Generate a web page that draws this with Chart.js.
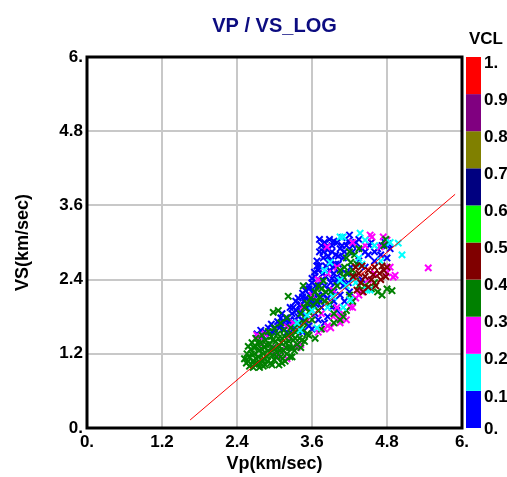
<!DOCTYPE html>
<html>
<head>
<meta charset="utf-8">
<title>VP / VS_LOG</title>
<script src="https://cdn.jsdelivr.net/npm/chart.js@4.4.1/dist/chart.umd.min.js"></script>
<style>
  html, body { margin: 0; padding: 0; background: #fff; }
  #wrap { width: 507px; height: 477px; }
</style>
</head>
<body>
<div id="wrap"><canvas id="vpvs"></canvas></div>
<script>
// colour bar: VCL from 0 to 1 in 0.1 steps
const vclLabels = ['0.', '0.1', '0.2', '0.3', '0.4', '0.5', '0.6', '0.7', '0.8', '0.9', '1.'];
const vclColors = ['#0000ff', '#00ffff', '#ff00ff', '#008000', '#800000',
                   '#00ff00', '#000080', '#808000', '#800080', '#ff0000'];

// axis ticks (same on both axes)
const axisTicks = [0, 1.2, 2.4, 3.6, 4.8, 6];
const axisTickText = ['0.', '1.2', '2.4', '3.6', '4.8', '6.'];

// samples [Vp, Vs] per VCL class
const vcl00 = [ // 0.0 - 0.1 blue
  [2.72,1.52],[2.78,1.58],[2.82,1.48],[2.85,1.55],[2.9,1.62],[2.95,1.68],[3.0,1.6],[3.05,1.72],
  [3.1,1.66],[3.1,1.78],[3.12,1.85],[3.18,1.78],[3.2,1.55],[3.22,1.7],[3.25,1.95],[3.28,1.85],
  [3.34,2.05],[3.3,1.6],[3.45,2.12],[3.35,1.9],[3.38,2.1],[3.4,1.7],[3.42,2.0],[3.45,2.18],
  [3.45,1.55],[3.55,2.3],[3.5,2.1],[3.5,1.8],[3.6,2.42],[3.55,2.25],[3.55,1.65],[3.64,2.52],
  [3.6,2.35],[3.6,2.0],[3.68,2.62],[3.65,2.45],[3.65,1.85],[3.68,2.7],[3.7,2.55],[3.7,2.15],
  [3.7,1.75],[3.72,2.85],[3.75,2.95],[3.75,1.95],[3.78,2.75],[3.8,3.0],[3.8,2.3],[3.82,2.62],
  [3.85,2.88],[3.85,2.1],[3.85,1.8],[3.88,3.05],[3.9,2.7],[3.9,2.35],[3.92,2.95],[3.95,2.5],
  [3.95,2.2],[3.98,2.8],[4.0,3.0],[4.0,2.4],[4.02,2.65],[4.05,2.9],[4.05,2.15],[4.08,3.08],
  [4.1,2.75],[4.1,2.3],[4.15,2.95],[4.15,2.5],[4.2,3.12],[4.22,2.6],[4.25,2.85],[4.3,3.0],
  [4.3,2.45],[4.35,2.7],[4.4,2.9],[4.4,2.4],[4.45,2.6],[4.5,2.8],[4.55,3.0],[4.6,2.7],
  [4.65,2.9],[4.7,2.8],[4.75,3.02],[4.8,2.75],[4.85,2.9],[3.72,3.05],[3.78,2.5],[3.88,2.55],
  [3.6,1.6],[3.8,1.7],
  [3.78,2.85],[3.82,2.92],[3.86,2.78],[3.92,2.85],[3.95,3.02],[3.98,2.65],[4.02,2.78],[4.08,2.95],
  [4.12,2.85],[3.72,2.62],[3.76,2.4],[3.82,2.45],[3.72,2.3],[3.66,2.3],[3.62,2.2],[3.58,2.05],
  [3.52,1.95],[3.48,2.05],[3.42,1.9],[3.38,1.8],[3.32,1.75],[3.28,1.68],[3.15,1.7],[3.08,1.62],
  [2.98,1.55],[2.92,1.52],[3.4,1.98],[3.3,1.95],[3.5,2.22],[3.92,2.42],[3.88,2.25],[3.95,2.6],
  [3.78,2.15],[3.88,2.65],[4.18,3.02],[4.35,3.05],[4.45,2.85],[4.6,2.85],[4.52,2.95],[4.25,2.95],
  [4.72,2.95],[4.82,2.98],[4.05,2.5],[3.98,2.35],
  [3.95,2.05],[4.0,1.9],[4.12,2.05],[4.2,2.2],[3.92,1.95],[4.08,2.4],[4.18,2.35],[3.35,1.65],
  [3.45,1.75],[3.25,1.75],[3.15,1.6],[3.62,2.1],[3.56,2.15],[3.66,2.0],[3.74,2.05]
];
const vcl01 = [ // 0.1 - 0.2 cyan
  [4.05,3.09],[4.1,3.09],[4.37,3.15],[4.45,3.04],[4.98,2.99],[5.04,2.8],[3.89,2.68],[4.05,2.39],
  [4.26,2.39],[4.48,2.23],[4.53,2.23],[4.21,2.07],[3.94,2.12],[3.68,1.62],[3.41,1.58],[3.36,1.7],
  [3.52,1.82],[4.6,2.95],[4.7,2.7],[4.4,2.65],[3.8,2.55],[4.15,2.3],[4.85,3.0],[3.6,1.9],
  [4.35,2.75],[4.1,1.95],[3.85,1.95],[4.3,2.35]
];
const vcl02 = [ // 0.2 - 0.3 magenta
  [2.72,1.5],[2.76,1.47],[2.85,1.52],[3.0,1.2],[3.05,1.15],[3.1,1.25],[3.18,1.3],[3.2,1.12],
  [3.36,1.3],[3.42,1.35],[3.2,1.63],[3.3,1.7],[3.46,1.96],[3.52,1.75],[3.84,2.93],[3.94,2.23],
  [3.94,1.8],[4.05,1.8],[4.05,1.7],[4.1,1.85],[4.21,1.96],[4.3,2.1],[4.4,2.2],[4.53,3.12],
  [4.56,3.09],[4.69,2.93],[4.74,3.09],[4.8,3.04],[4.8,2.51],[4.85,2.6],[4.9,2.44],[4.93,2.47],
  [5.46,2.59],[4.6,2.5],[4.5,2.4],[4.0,2.6],[3.85,2.5],[3.6,2.15],[3.7,2.4],[2.95,1.3],
  [2.8,1.35],[3.25,1.45],[4.45,2.95],[4.25,3.0],[3.75,1.85],[3.85,1.65],[3.7,1.55],[3.9,1.62],
  [4.0,1.95],[4.15,1.75],[4.25,1.95],[3.8,1.6],[4.35,2.15]
];
const vcl03 = [ // 0.3 - 0.4 green
  [2.52,1.12],[2.55,1.05],[2.56,1.2],[2.6,1.0],[2.6,1.15],[2.62,1.27],[2.65,1.08],[2.66,0.98],
  [2.68,1.2],[2.7,1.32],[2.72,1.05],[2.74,1.15],[2.75,1.25],[2.76,0.98],[2.78,1.38],[2.8,1.1],
  [2.82,1.2],[2.84,1.3],[2.85,1.02],[2.86,1.42],[2.88,1.15],[2.9,1.25],[2.92,1.35],[2.94,1.05],
  [2.95,1.48],[2.96,1.18],[2.98,1.3],[3.0,1.1],[3.02,1.4],[3.04,1.22],[3.05,1.52],[3.07,1.02],
  [3.08,1.32],[3.1,1.15],[3.12,1.45],[3.14,1.25],[3.15,1.58],[3.17,1.08],[3.18,1.38],[3.2,1.2],
  [3.22,1.5],[3.24,1.3],[3.26,1.62],[3.28,1.15],[3.3,1.42],[3.32,1.25],[3.34,1.55],[3.36,1.35],
  [3.38,1.68],[3.4,1.45],[3.42,1.3],[3.45,1.6],[3.48,1.4],[3.5,1.75],[3.52,1.52],[2.64,1.38],
  [2.7,1.45],[2.58,1.32],[2.8,1.5],[2.9,1.56],[3.0,1.62],[3.1,1.7],[3.2,1.78],
  [2.58,1.08],[2.63,1.2],[2.67,1.3],[2.71,1.12],[2.73,1.38],[2.77,1.05],[2.79,1.28],[2.83,1.12],
  [2.87,1.35],[2.89,1.08],[2.93,1.22],[2.97,1.42],[3.01,1.28],[3.03,1.15],[3.06,1.45],[3.09,1.25],
  [3.11,1.38],[3.13,1.12],[3.16,1.48],[3.19,1.3],[3.23,1.4],[3.27,1.52],[3.29,1.3],[3.33,1.45],
  [3.37,1.58],[3.41,1.62],[3.44,1.42],[3.47,1.7],[2.68,1.03],[2.82,1.0],[2.96,1.02],[3.12,1.05],
  [3.25,1.15],
  [3.42,1.85],[3.48,1.95],[3.52,2.02],[3.55,1.88],[3.58,2.1],[3.62,1.98],[3.65,2.2],[3.68,2.05],
  [3.7,2.3],[3.72,2.12],[3.75,2.25],[3.78,2.38],[3.8,2.05],[3.82,2.2],[3.6,1.75],[3.7,1.9],
  [3.88,2.0],[4.1,2.45],[4.12,2.6],[4.15,2.75],[4.18,2.5],[4.2,2.85],[4.22,2.68],[4.25,2.55],
  [4.28,2.8],[4.3,2.45],[4.32,2.65],[4.05,2.55],[4.35,2.9],[4.45,2.3],[4.55,2.25],[4.65,2.2],
  [4.72,2.15],[4.8,2.25],[4.88,2.22],[4.6,2.35],[4.75,2.95],[4.78,3.05],[4.05,1.75],[4.15,1.9],
  [4.25,2.05],[3.95,1.85],[3.55,1.5],[3.75,1.6],[3.95,1.7],[4.1,1.8],[3.65,1.45],
  [3.46,2.3],[3.22,2.13],[2.98,1.87],[3.06,1.9],
  [4.0,2.3],[3.9,2.2],[4.2,2.15],[4.35,2.3]
];
const vcl04 = [ // 0.4 - 0.5 maroon
  [4.26,2.45],[4.3,2.6],[4.35,2.5],[4.38,2.35],[4.4,2.62],[4.45,2.45],[4.5,2.55],[4.55,2.4],
  [4.6,2.6],[4.62,2.3],[4.68,2.5],[4.7,2.4],[4.75,2.55],[4.78,2.45],[4.8,2.6],[4.72,2.62],
  [4.5,2.28],[4.42,2.2],[4.32,2.23],[4.58,2.48]
];

// red trend line end points
const fitVp = [1.65, 5.89];
const fitVs = [0.13, 3.78];

const font = 'Liberation Sans';

function pts(arr) {
  return arr.map(p => ({ x: p[0], y: p[1] }));
}

function cloud(arr, i, order) {
  return {
    type: 'scatter',
    data: pts(arr),
    pointStyle: 'crossRot',
    pointRadius: 4.5,
    borderWidth: 2,
    borderColor: vclColors[i],
    backgroundColor: vclColors[i],
    order: order
  };
}

const extras = {
  id: 'extras',
  afterDraw(chart) {
    const ctx = chart.ctx;
    const a = chart.chartArea;
    ctx.save();
    // frame
    ctx.strokeStyle = '#000';
    ctx.lineWidth = 3;
    ctx.strokeRect(a.left, a.top, a.right - a.left, a.bottom - a.top);
    // title
    ctx.fillStyle = '#0c0c80';
    ctx.font = 'bold 20px "' + font + '"';
    ctx.textAlign = 'center';
    ctx.textBaseline = 'middle';
    ctx.fillText('VP / VS_LOG', (a.left + a.right) / 2, 26);
    // colour bar
    const h = a.bottom - a.top;
    const bx = a.right + 4;
    for (let i = 0; i < vclColors.length; i++) {
      const y0 = a.bottom - h * i / vclColors.length;
      const y1 = a.bottom - h * (i + 1) / vclColors.length;
      ctx.fillStyle = vclColors[i];
      ctx.fillRect(bx, y1, 15, y0 - y1);
    }
    ctx.fillStyle = '#000';
    ctx.font = 'bold 17px "' + font + '"';
    ctx.textAlign = 'left';
    vclLabels.forEach((t, i) => {
      const y = a.bottom - h * i / (vclLabels.length - 1);
      ctx.fillText(t, bx + 18, Math.min(y + 6, a.bottom + 1));
    });
    ctx.textAlign = 'center';
    ctx.fillText('VCL', bx + 20, 39);
    ctx.restore();
  }
};

function axis(title, pad) {
  return {
    type: 'linear',
    min: 0,
    max: 6,
    afterBuildTicks: s => { s.ticks = axisTicks.map(v => ({ value: v })); },
    ticks: {
      color: '#000',
      padding: 4,
      font: { family: font, size: 17, weight: 'bold' },
      callback: (v, i) => axisTickText[i]
    },
    grid: { color: '#c8c8c8', lineWidth: 2, drawTicks: false },
    border: { display: false },
    title: {
      display: true,
      text: title,
      color: '#000',
      padding: pad,
      font: { family: font, size: 18, weight: 'bold' }
    }
  };
}

const xAxis = axis('Vp(km/sec)', { top: 0, bottom: 2 });
xAxis.afterFit = s => { s.height = 49; };
const yAxis = axis('VS(km/sec)', { top: 12, bottom: 0 });
yAxis.afterFit = s => { s.width = 87; };

new Chart(document.getElementById('vpvs'), {
  type: 'scatter',
  data: {
    datasets: [
      {
        type: 'line',
        data: fitVp.map((x, i) => ({ x: x, y: fitVs[i] })),
        borderColor: '#ff0000',
        borderWidth: 1,
        pointRadius: 0,
        fill: false,
        order: 0
      },
      cloud(vcl04, 4, 1),
      cloud(vcl01, 1, 2),
      cloud(vcl03, 3, 3),
      cloud(vcl02, 2, 4),
      cloud(vcl00, 0, 5)
    ]
  },
  options: {
    responsive: true,
    maintainAspectRatio: false,
    animation: false,
    layout: { padding: { top: 57, right: 45, bottom: 0, left: 0 } },
    plugins: {
      legend: { display: false },
      tooltip: { enabled: false }
    },
    scales: { x: xAxis, y: yAxis }
  },
  plugins: [extras]
});
</script>
</body>
</html>
